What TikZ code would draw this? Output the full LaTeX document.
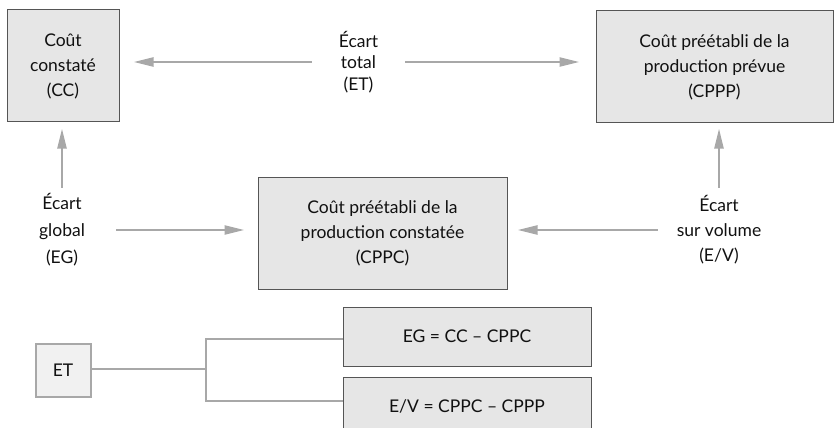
\documentclass[tikz,border=0pt]{standalone}
\usepackage{fontspec}
\setmainfont{Lato}
\usetikzlibrary{arrows.meta}
\definecolor{boxfill}{HTML}{E6E6E6}
\definecolor{boxline}{HTML}{555555}
\definecolor{conn}{HTML}{A8A8A8}
\definecolor{txt}{HTML}{111111}
\tikzset{
  box/.style={draw=boxline, fill=boxfill, line width=1pt, align=center, inner sep=0pt, text=txt, font=\fontsize{17.5}{25}\selectfont},
  lbl/.style={align=center, inner sep=0pt, text=txt, font=\fontsize{17.5}{25}\selectfont},
  arr/.style={draw=conn, line width=2.4pt, -{Triangle[length=20pt,width=9pt]}},
  tree/.style={draw=conn, line width=2pt},
}
\begin{document}
\begin{tikzpicture}[x=1pt,y=-1pt]
\useasboundingbox (0,0) rectangle (839,428);
\clip (0,0) rectangle (839,428);
\node[box, minimum width=112pt, minimum height=112pt] (cc) at (63,66) {Coût\\constaté\\(CC)};
\node[box, minimum width=237pt, minimum height=112pt] (cppp) at (714.5,67) {Coût préétabli de la\\production prévue\\(CPPP)};
\node[box, minimum width=249pt, minimum height=112pt] (cppc) at (382.5,233) {Coût préétabli de la\\production constatée\\(CPPC)};
\node[lbl, minimum width=93pt, font=\fontsize{17.5}{21.5}\selectfont] (etl) at (358.5,62) {Écart\\total\\(ET)};
\node[lbl, minimum width=108pt, minimum height=84pt, font=\fontsize{17.5}{27}\selectfont] (egl) at (62,230) {Écart\\global\\(EG)};
\node[lbl, minimum width=122pt, minimum height=84pt] (evl) at (719,230) {Écart\\sur volume\\(E/V)};
\draw[arr, shorten >=14pt] (etl.west) -- (cc.east |- etl.west);
\draw[arr, shorten >=16pt] (etl.east) -- (cppp.west |- etl.east);
\draw[arr, shorten >=6pt] (egl.north) -- (cc.south -| egl.north);
\draw[arr, shorten >=13pt] (egl.east) -- (cppc.west |- egl.east);
\draw[arr, shorten >=5pt] (evl.north) -- (cppp.south -| evl.north);
\draw[arr, shorten >=10pt] (evl.west) -- (cppc.east |- evl.west);
\node[draw=conn, fill=boxfill!55, line width=2pt, minimum width=55pt, minimum height=53pt, inner sep=0pt, text=txt, font=\fontsize{17.5}{25}\selectfont] (etb) at (63,370) {ET};
\node[box, minimum width=248pt, minimum height=59pt] (egb) at (467,336.5) {EG = CC – CPPC};
\node[box, minimum width=248pt, minimum height=59pt] (evb) at (467,406.5) {E/V = CPPC – CPPP};
\coordinate (j) at (206,369);
\coordinate (j1) at (206,339);
\coordinate (j2) at (206,401);
\draw[tree] (etb.east |- j) -- (j);
\draw[tree] (egb.west |- j1) -- (j1) -- (j2) -- (evb.west |- j2);
\end{tikzpicture}
\end{document}
